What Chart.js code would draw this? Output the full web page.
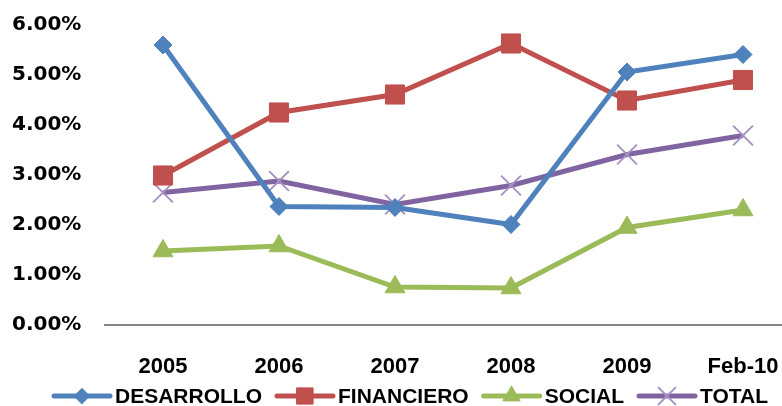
<!DOCTYPE html>
<html>
<head>
<meta charset="utf-8">
<script src="https://cdn.jsdelivr.net/npm/chart.js@4/dist/chart.umd.min.js"></script>
<style>
  html, body { margin: 0; padding: 0; background: #fff; overflow: hidden; width: 782px; height: 406px; }
  #wrap { width: 820px; height: 406px; position: relative; }
  canvas { display: block; }
</style>
</head>
<body>
<div id="wrap"><canvas id="c" width="820" height="406"></canvas></div>
<script>
// ---- data (percent values) ----
const categories = ['2005', '2006', '2007', '2008', '2009', 'Feb-10'];
const desarrollo = [5.60, 2.37, 2.35, 2.01, 5.06, 5.41];
const financiero = [2.99, 4.25, 4.61, 5.63, 4.49, 4.90];
const social     = [1.48, 1.58, 0.76, 0.74, 1.95, 2.30];
const total      = [2.65, 2.88, 2.41, 2.79, 3.41, 3.79];
const seriesNames = ['DESARROLLO', 'FINANCIERO', 'SOCIAL', 'TOTAL'];
const yTicks = [0, 1, 2, 3, 4, 5, 6];

const legendFont = 'bold 21px "Liberation Sans", Arial, sans-serif';

const customLegend = {
  id: 'customLegend',
  afterDraw(chart) {
    const ctx = chart.ctx;
    const ds = chart.data.datasets;
    ctx.save();
    ctx.font = legendFont;
    const iconW = 60, gapText = 3, gapItem = 13;
    let widths = ds.map(d => iconW + gapText + ctx.measureText(d.label).width);
    let totalW = widths.reduce((a, b) => a + b, 0) + gapItem * (ds.length - 1);
    let x = chart.width / 2 - totalW / 2;
    const y = 396;
    ds.forEach((d, i) => {
      ctx.strokeStyle = d.borderColor;
      ctx.lineWidth = d.borderWidth;
      ctx.lineCap = 'round';
      ctx.beginPath();
      ctx.moveTo(x + 2, y);
      ctx.lineTo(x + iconW - 2, y);
      ctx.stroke();
      ctx.fillStyle = d.pointBackgroundColor;
      ctx.strokeStyle = d.pointBorderColor;
      ctx.lineWidth = d.pointBorderWidth;
      Chart.helpers.drawPoint(ctx, {
        pointStyle: d.pointStyle,
        radius: d.pointRadius * 0.85,
        rotation: 0,
        borderWidth: d.pointBorderWidth
      }, x + iconW / 2, y);
      ctx.fillStyle = '#000';
      ctx.textAlign = 'left';
      ctx.textBaseline = 'middle';
      ctx.fillText(d.label, x + iconW + gapText, y + 1);
      x += widths[i] + gapItem;
    });
    ctx.restore();
  }
};

function mk(label, data, color, style, radius, ptBorder, ptBorderW) {
  return {
    label, data,
    borderColor: color,
    backgroundColor: color,
    borderWidth: 5,
    pointStyle: style,
    pointRadius: radius,
    pointHoverRadius: radius,
    pointBackgroundColor: color,
    pointBorderColor: ptBorder,
    pointBorderWidth: ptBorderW,
    tension: 0,
    fill: false,
    clip: false
  };
}

new Chart(document.getElementById('c'), {
  type: 'line',
  data: {
    labels: categories,
    datasets: [
      mk(seriesNames[0], desarrollo, '#4F81BD', 'rectRot', 9, '#4F81BD', 1),
      mk(seriesNames[1], financiero, '#C0504D', 'rect', 13.5, '#C0504D', 1),
      mk(seriesNames[2], social, '#9BBB59', 'triangle', 11.5, '#9BBB59', 1),
      mk(seriesNames[3], total, '#8064A2', 'crossRot', 14, '#A693C4', 2)
    ]
  },
  options: {
    responsive: false,
    animation: false,
    devicePixelRatio: 1,
    layout: { autoPadding: false, padding: { top: 25, right: 19, bottom: 0, left: 12 } },
    plugins: {
      legend: { display: false },
      tooltip: { enabled: false }
    },
    scales: {
      x: {
        offset: true,
        grid: { display: false, drawTicks: false },
        border: { display: true, color: '#868686', width: 2 },
        ticks: {
          color: '#000',
          padding: 29,
          font: { family: '"Liberation Sans", Arial, sans-serif', size: 22, weight: 'bold' },
          maxRotation: 0,
          autoSkip: false
        },
        afterFit(scale) { scale.height = 81; }
      },
      y: {
        min: yTicks[0],
        max: yTicks[yTicks.length - 1],
        grid: { display: false, drawTicks: false },
        border: { display: false },
        afterBuildTicks(scale) { scale.ticks = yTicks.map(v => ({ value: v })); },
        ticks: {
          color: '#000',
          padding: 2,
          crossAlign: 'far',
          font: { family: '"DejaVu Sans", sans-serif', size: 20, weight: 'bold' },
          callback: v => Number(v).toFixed(2) + '%'
        },
        afterFit(scale) { scale.width = 93; }
      }
    }
  },
  plugins: [customLegend]
});
</script>
</body>
</html>
